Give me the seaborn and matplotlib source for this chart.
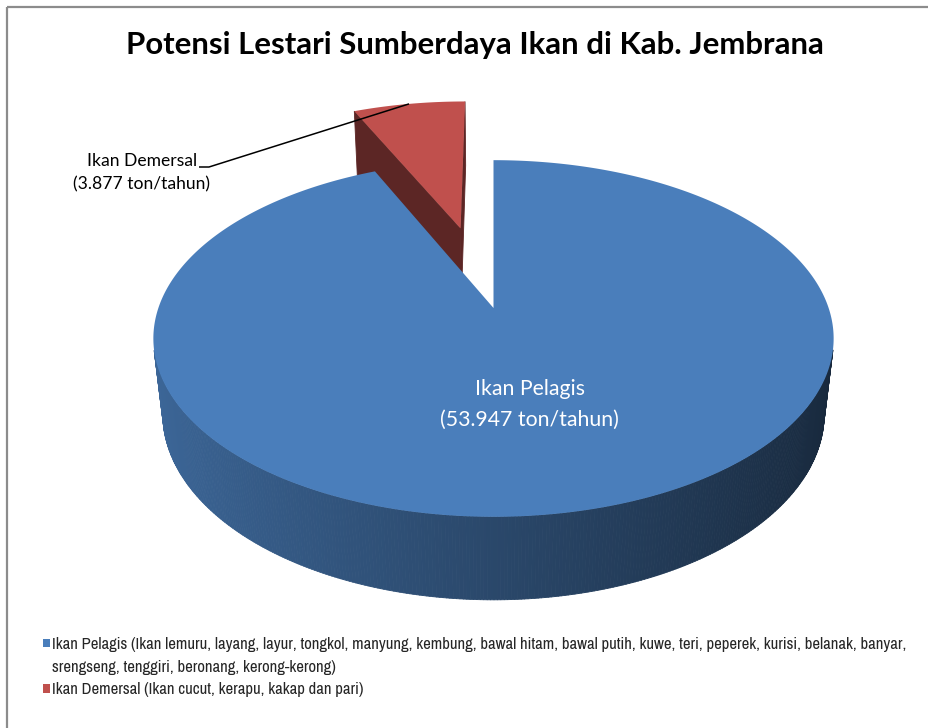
import numpy as np
import matplotlib
matplotlib.use("Agg")
import matplotlib.pyplot as plt
import matplotlib.transforms as mtransforms
from matplotlib.path import Path
from matplotlib.patches import Patch, Rectangle
from matplotlib.collections import PolyCollection
from matplotlib import font_manager
from matplotlib.font_manager import FontProperties
import seaborn as sns

# ---------------------------------------------------------------- data
categories = ["Ikan Pelagis", "Ikan Demersal"]
potensi = [53947, 3877]                       # ton/tahun
jenis_pelagis = ["Ikan lemuru, layang, layur, tongkol, manyung, kembung, bawal hitam, "
                 "bawal putih, kuwe, teri, peperek, kurisi, belanak, banyar,",
                 "srengseng, tenggiri, beronang, kerong-kerong"]
jenis_demersal = ["Ikan cucut, kerapu, kakap dan pari"]
explode = [0.0, 0.51]
title = "Potensi Lestari Sumberdaya Ikan di Kab. Jembrana"

# ---------------------------------------------------------------- style
sns.set_theme(style="white")
top_colors = ["#4A7EBB", "#C0504D"]
plt.rcParams["font.family"] = ["Lato", "DejaVu Sans"]


def narrow_font():
    """Pick a narrow sans face for the legend if one is installed."""
    best, best_rank = None, 99
    for f in font_manager.fontManager.ttflist:
        name = f.name
        if "Mono" in name or "Serif" in name or f.style != "normal":
            continue
        if f.weight not in (400, "normal", "regular", "book", "Regular"):
            continue
        stretch = str(f.stretch)
        fn = f.fname.lower()
        if "Narrow" in name or "narrow" in fn:
            rank = 0
        elif "Condensed" in name or "condensed" in stretch or "condensed" in fn:
            rank = 1
        else:
            continue
        if rank < best_rank:
            best, best_rank = f, rank
    if best is None:
        return FontProperties(family=["Liberation Sans", "DejaVu Sans"])
    return FontProperties(fname=best.fname)


W, H_PX = 929, 728
fig = plt.figure(figsize=(W / 100, H_PX / 100), dpi=100)
fig.patch.set_facecolor("white")
ax = fig.add_axes([0, 0, 1, 1])
renderer = fig.canvas.get_renderer()

# ---------------------------------------------------------------- 3-D view
ELEV = np.radians(31.1)
SE, CE = np.sin(ELEV), np.cos(ELEV)
DIST = 5.01          # camera distance in pie radii
FOCAL = 1679.0       # pixels
CX, CY = 493.5, 308.0
DEPTH = 0.268        # pie thickness in pie radii


def project(x, y, z):
    x = np.asarray(x, float)
    y = np.asarray(y, float)
    z = np.asarray(z, float)
    d = DIST + y * CE - z * SE
    return CX + FOCAL * x / d, CY - FOCAL * (y * SE + z * CE) / d


class TiltedPlane(mtransforms.Transform):
    """Maps the flat pie plane (at height z) into the perspective view."""
    input_dims = output_dims = 2
    is_separable = False
    has_inverse = False

    def __init__(self, z=0.0):
        super().__init__()
        self.z = z

    def transform_non_affine(self, values):
        v = np.asarray(values, float)
        flat = v.reshape(-1, 2)
        X, Y = project(flat[:, 0], flat[:, 1], self.z)
        return np.column_stack([X, Y]).reshape(v.shape)

    def transform_path_non_affine(self, path):
        polys, cur = [], None
        for seg, code in path.iter_bezier():
            cp = seg.control_points
            if code == Path.MOVETO:
                if cur:
                    polys.append(cur)
                cur = [cp[0]]
                continue
            n = 2 if seg.degree <= 1 else 40
            t = np.linspace(0, 1, n)[1:]
            cur.extend(list(seg(t)))
        if cur:
            polys.append(cur)
        verts, codes = [], []
        for p in polys:
            p = np.asarray(p)
            verts.append(p)
            codes += [Path.MOVETO] + [Path.LINETO] * (len(p) - 1)
        verts = np.vstack(verts)
        return Path(self.transform_non_affine(verts), codes)


camera = np.array([0.0, -DIST * CE, DIST * SE])


def faces_camera(point, normal):
    return np.dot(camera - np.asarray(point), np.asarray(normal)) > 0


def shade(hex_color, k):
    rgb = np.array(matplotlib.colors.to_rgb(hex_color))
    return tuple(np.clip(rgb * k, 0, 1))


# ---------------------------------------------------------------- pie
wedges, _ = ax.pie(potensi, startangle=90, counterclock=False, explode=explode,
                   colors=top_colors, radius=1.0,
                   wedgeprops=dict(linewidth=0, antialiased=True))

side_shades = [(0.57, 0.25), (0.50, 0.20)]
cut_shade = [0.45, 0.48]
order = [1, 0]   # slice further back first
for rank, i in enumerate(order):
    w = wedges[i]
    base = top_colors[i]
    cx, cy = w.center
    t1, t2 = np.radians(w.theta1), np.radians(w.theta2)
    zbase = 1 + rank * 3

    # outer wall
    angs = np.linspace(t1, t2, int(np.degrees(t2 - t1) * 2) + 2)
    polys, cols = [], []
    for a0, a1 in zip(angs[:-1], angs[1:]):
        am = 0.5 * (a0 + a1)
        if not faces_camera((cx + np.cos(am), cy + np.sin(am), -DEPTH / 2),
                            (np.cos(am), np.sin(am), 0)):
            continue
        xs = cx + np.cos([a0, a1, a1, a0])
        ys = cy + np.sin([a0, a1, a1, a0])
        zs = np.array([0, 0, -DEPTH, -DEPTH])
        X, Y = project(xs, ys, zs)
        polys.append(np.column_stack([X, Y]))
        a, b = side_shades[i]
        cols.append(shade(base, a - b * np.cos(am)))
    if polys:
        ax.add_collection(PolyCollection(polys, facecolors=cols, edgecolors=cols,
                                         linewidths=0.6, zorder=zbase))

    # radial cut faces
    for th, sgn in ((t1, -1), (t2, 1)):
        na = th + sgn * np.pi / 2
        mid = (cx + 0.5 * np.cos(th), cy + 0.5 * np.sin(th), -DEPTH / 2)
        if not faces_camera(mid, (np.cos(na), np.sin(na), 0)):
            continue
        xs = np.array([cx, cx + np.cos(th), cx + np.cos(th), cx])
        ys = np.array([cy, cy + np.sin(th), cy + np.sin(th), cy])
        zs = np.array([0, 0, -DEPTH, -DEPTH])
        X, Y = project(xs, ys, zs)
        c = shade(base, cut_shade[i])
        ax.fill(X, Y, facecolor=c, edgecolor=c, linewidth=0.6, zorder=zbase + 1)

    # top face
    w.set_transform(TiltedPlane(0.0) + ax.transData)
    w.set_zorder(zbase + 2)


def fmt(v):
    return f"{v:,}".replace(",", ".")


# label on the large slice, at half radius along its bisector
wp = wedges[0]
mid0 = np.radians(0.5 * (wp.theta1 + wp.theta2))
lx, ly = project(wp.center[0] + 0.5 * np.cos(mid0), wp.center[1] + 0.5 * np.sin(mid0), 0)
ax.text(float(lx) - 2, float(ly) + 4, f"{categories[0]}\n({fmt(potensi[0])} ton/tahun)",
        ha="center", va="center", multialignment="center", color="white",
        fontsize=15.3, linespacing=1.65, zorder=10)

# label on the small slice with a leader line to its rim
wd = wedges[1]
mid1 = np.radians(0.5 * (wd.theta1 + wd.theta2))
ex, ey = project(wd.center[0] + np.cos(mid1), wd.center[1] + np.sin(mid1), 0)
ax.text(142, 173, f"{categories[1]}\n({fmt(potensi[1])} ton/tahun)",
        ha="center", va="center", multialignment="center", color="black",
        fontsize=12.6, linespacing=1.55, zorder=10)
ax.plot([199, 209, float(ex)], [167, 167, float(ey)], color="black", lw=1.1,
        solid_capstyle="butt", zorder=10)

# title
ax.text(475, 45, title, ha="center", va="center", fontsize=22.4, fontweight="bold",
        color="black", zorder=10)

# chart frame
ax.add_patch(Rectangle((7, 7), 960, 760, fill=False, edgecolor="#8C8C8C",
                       linewidth=1.6, clip_on=False, zorder=0))

ax.set_xlim(0, W)
ax.set_ylim(H_PX, 0)
ax.set_aspect("auto")
ax.axis("off")

# legend
handles = [Patch(facecolor=top_colors[0], edgecolor="none"),
           Patch(facecolor="none", edgecolor="none"),
           Patch(facecolor=top_colors[1], edgecolor="none")]
labels = [f"{categories[0]} ({jenis_pelagis[0]}",
          f"{jenis_pelagis[1]})",
          f"{categories[1]} ({jenis_demersal[0]})"]

# size the legend font so the long first row spans the plot width
leg_fp = narrow_font()
leg_fp.set_size(10)
probe = ax.text(0, 0, labels[0], fontproperties=leg_fp)
bb = probe.get_window_extent(renderer)
probe.remove()
leg_size = 10 * 857.0 / bb.width
leg_fp.set_size(leg_size)
size_px = leg_size * 100 / 72
row_h = bb.height * leg_size / 10
spacing = max(0.05, (24.5 - row_h) / size_px)

fig.legend(handles, labels, loc="upper left", bbox_to_anchor=(43 / W, 1 - 637 / H_PX),
           frameon=False, borderpad=0, borderaxespad=0, handlelength=7 / size_px,
           handleheight=7 / size_px, handletextpad=2 / size_px, labelspacing=spacing,
           prop=leg_fp)

fig.savefig("out.png", dpi=100, facecolor="white")
